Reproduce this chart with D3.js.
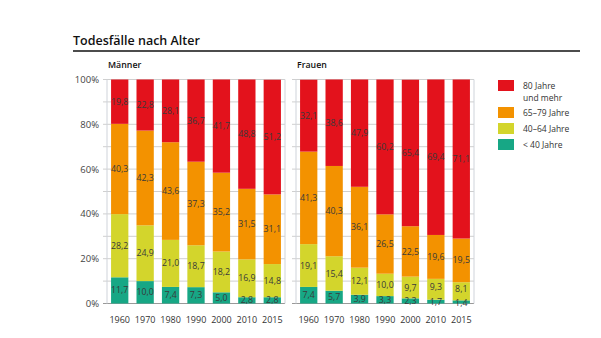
<!DOCTYPE html>
<html>
<head>
<meta charset="utf-8">
<script src="https://cdn.jsdelivr.net/npm/d3@7"></script>
<style>
  body { margin: 0; background: #fff; }
  svg text { font-family: "Open Sans", "Noto Sans", sans-serif; }
</style>
</head>
<body>
<script>
const years = ["1960", "1970", "1980", "1990", "2000", "2010", "2015"];
const groups = ["< 40 Jahre", "40–64 Jahre", "65–79 Jahre", "80 Jahre und mehr"];
const colors = ["#17a785", "#d3d52c", "#f39200", "#e3121c"];
const yTicks = [0, 20, 40, 60, 80, 100];

// Männer, bottom to top
const menU40 = [11.7, 10.0, 7.4, 7.3, 5.0, 2.8, 2.8];
const men4064 = [28.2, 24.9, 21.0, 18.7, 18.2, 16.9, 14.8];
const men6579 = [40.3, 42.3, 43.6, 37.3, 35.2, 31.5, 31.1];
const men80 = [19.8, 22.8, 28.1, 36.7, 41.7, 48.8, 51.2];

// Frauen
const womU40 = [7.4, 5.7, 3.9, 3.3, 2.3, 1.7, 1.4];
const wom4064 = [19.1, 15.4, 12.1, 10.0, 9.7, 9.3, 8.1];
const wom6579 = [41.3, 40.3, 36.1, 26.5, 22.5, 19.6, 19.5];
const wom80 = [32.1, 38.6, 47.9, 60.2, 65.4, 69.4, 71.1];

const W = 601, H = 338;
const svg = d3.select("body").append("svg")
    .attr("width", W)
    .attr("height", H);

// title
svg.append("text")
    .attr("x", 73).attr("y", 45)
    .attr("font-size", 12.5)
    .attr("font-weight", 600)
    .attr("fill", "#111")
    .text("Todesfälle nach Alter");
svg.append("line")
    .attr("x1", 73).attr("x2", 580)
    .attr("y1", 51).attr("y2", 51)
    .attr("stroke", "#111")
    .attr("stroke-width", 1.5);

const y = d3.scaleLinear().domain([0, 100]).range([303.5, 79.5]).clamp(true);

const fmt = v => d3.format(".1f")(v).replace(".", ",");

function panel(name, x0, x1, series) {
    const g = svg.append("g");
    const x = d3.scaleBand().domain(years).range([x0, x1])
        .paddingInner(0.32).paddingOuter(0.16);

    // gridlines every 10%
    g.selectAll(".grid").data(d3.range(0, 101, 10)).join("line")
        .attr("x1", x0 - 4).attr("x2", x1)
        .attr("y1", d => y(d)).attr("y2", d => y(d))
        .attr("stroke", d => d === 0 ? "#999" : "#cfcfcf")
        .attr("stroke-width", 1);
    g.selectAll(".vb").data([x0, x1]).join("line")
        .attr("x1", d => d).attr("x2", d => d)
        .attr("y1", y(100)).attr("y2", y(0))
        .attr("stroke", "#cfd3da");

    g.append("text")
        .attr("x", x0 + 1).attr("y", 67.5)
        .attr("font-size", 8.8)
        .attr("font-weight", 600)
        .attr("fill", "#111")
        .text(name);

    const rows = years.map((yr, i) => {
        const r = {year: yr};
        groups.forEach((gr, k) => r[gr] = series[k][i]);
        return r;
    });
    const stacked = d3.stack().keys(groups)(rows);

    stacked.forEach((layer, k) => {
        g.selectAll(null).data(layer).join("rect")
            .attr("x", d => x(d.data.year))
            .attr("width", x.bandwidth())
            .attr("y", d => y(d[1]))
            .attr("height", d => y(d[0]) - y(d[1]))
            .attr("fill", colors[k]);
    });
    stacked.forEach((layer, k) => {
        g.selectAll(null).data(layer).join("text")
            .attr("x", d => x(d.data.year) + x.bandwidth() / 2)
            .attr("y", d => {
                let cy = y((d[0] + Math.min(d[1], 100)) / 2);
                // keep labels of thin bottom slices apart from the one above
                if (k === 1 && d[0] < 2) cy -= 2;
                if (k === 0 && d[1] < 2) cy += 0.5;
                return cy;
            })
            .attr("dy", "0.35em")
            .attr("text-anchor", "middle")
            .attr("font-size", 8.8)
            .attr("fill", "#3a3a3a")
            .text(d => fmt(d[1] - d[0]));
    });

    g.append("g")
        .attr("transform", "translate(0,303.5)")
        .call(d3.axisBottom(x).tickSize(0).tickPadding(13))
        .call(a => a.select(".domain").remove())
        .selectAll("text")
        .attr("font-size", 9)
        .attr("fill", "#333");
}

panel("Männer", 107, 285, [menU40, men4064, men6579, men80]);
panel("Frauen", 296, 474, [womU40, wom4064, wom6579, wom80]);

// y axis labels
svg.append("g")
    .attr("transform", "translate(99,0)")
    .call(d3.axisLeft(y).tickValues(yTicks).tickSize(0).tickPadding(0)
        .tickFormat(d => d + "%"))
    .call(a => a.select(".domain").remove())
    .selectAll("text")
    .attr("font-size", 9.5)
    .attr("fill", "#444");

// legend
const legendRows = [
    {c: colors[3], t: ["80 Jahre", "und mehr"], y: 80},
    {c: colors[2], t: ["65–79 Jahre"], y: 107},
    {c: colors[1], t: ["40–64 Jahre"], y: 123},
    {c: colors[0], t: ["< 40 Jahre"], y: 139}
];
const lg = svg.append("g");
legendRows.forEach(r => {
    lg.append("rect")
        .attr("x", 498).attr("y", r.y)
        .attr("width", 16).attr("height", 11)
        .attr("fill", r.c);
    r.t.forEach((s, i) => {
        lg.append("text")
            .attr("x", 523).attr("y", r.y + 8.5 + i * 12)
            .attr("font-size", 8.5)
            .attr("fill", "#333")
            .text(s);
    });
});
</script>
</body>
</html>
